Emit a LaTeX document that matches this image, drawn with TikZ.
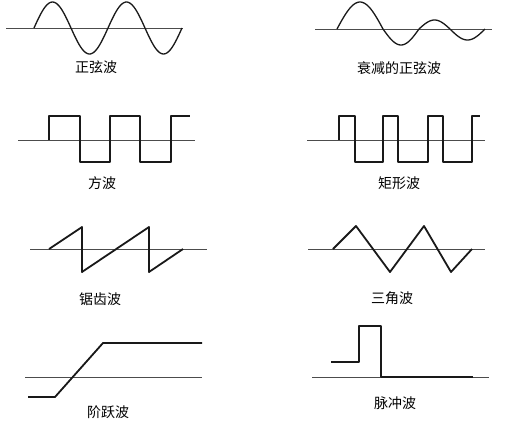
\documentclass[tikz,border=0pt]{standalone}
\usepackage{fontspec}
\newfontfamily\cjk{Noto Sans CJK SC}
\usepackage{tikz}
\usepackage{xcolor}

\begin{document}
\begin{tikzpicture}[x=1pt,y=-1pt]
	\tikzstyle{axis} = [draw=black!70, line width=0.7]
	\tikzstyle{wave} = [draw=black!90, line width=1.3, line join=round]
	\tikzstyle{thick wave} = [draw=black!90, line width=1.8, line join=round]
	\tikzstyle{wavelabel} = [font=\cjk\fontsize{14}{16}\selectfont, inner sep=1pt]
	\useasboundingbox (0,0) rectangle (523,429);

		\draw[axis] (6,28) -- (183,28);
		\draw[wave] plot[domain=34:182, samples=90] (\x, {28-26*sin((\x-34)/74*360)});
		\node[wavelabel] (sine) at (96,67) {正弦波};

		\draw[axis] (315,29) -- (492,29);
		\foreach \a/\b/\h in {337/383/27, 383/419/-16, 419/450/9, 450/485/-11}
			\draw[wave] plot[domain=\a:\b, samples=30] (\x, {29-\h*sin((\x-\a)/(\b-\a)*180)});
		\node[wavelabel] (damped) at (399,68) {衰减的正弦波};

		\draw[axis] (18,140) -- (195,140);
		\draw[wave] (49,140) -- (49,116) -- (80,116) -- (80,162) -- (110,162) -- (110,116)
			-- (140,116) -- (140,162) -- (171,162) -- (171,116) -- (190,116);
		\node[wavelabel] (square) at (102,183) {方波};

		\draw[axis] (307,140) -- (485,140);
		\draw[wave] (339,140) -- (339,116) -- (355,116) -- (355,162) -- (383,162) -- (383,116)
			-- (398,116) -- (398,162) -- (428,162) -- (428,116) -- (443,116) -- (443,162)
			-- (472,162) -- (472,116) -- (480,116);
		\node[wavelabel] (rect) at (399,183) {矩形波};

		\draw[axis] (30,249) -- (207,249);
		\draw[thick wave] (49,249) -- (82,227) -- (82,272) -- (149,227) -- (149,272) -- (183,249);
		\node[wavelabel] (saw) at (100,299) {锯齿波};

		\draw[axis] (308,249) -- (485,249);
		\draw[thick wave] (333,249) -- (356,226) -- (390,272) -- (424,226) -- (451,272) -- (472,249);
		\node[wavelabel] (tri) at (392,298) {三角波};

		\draw[axis] (25,377) -- (202,377);
		\draw[thick wave] (28,397) -- (55,397) -- (103,343) -- (202,343);
		\node[wavelabel] (step) at (108,412) {阶跃波};

		\draw[axis] (312,377) -- (489,377);
		\draw[thick wave] (331,362) -- (359,362) -- (359,326) -- (381,326) -- (381,377) -- (473,377);
		\node[wavelabel] (pulse) at (395,403) {脉冲波};
	\end{tikzpicture}
\end{document}
